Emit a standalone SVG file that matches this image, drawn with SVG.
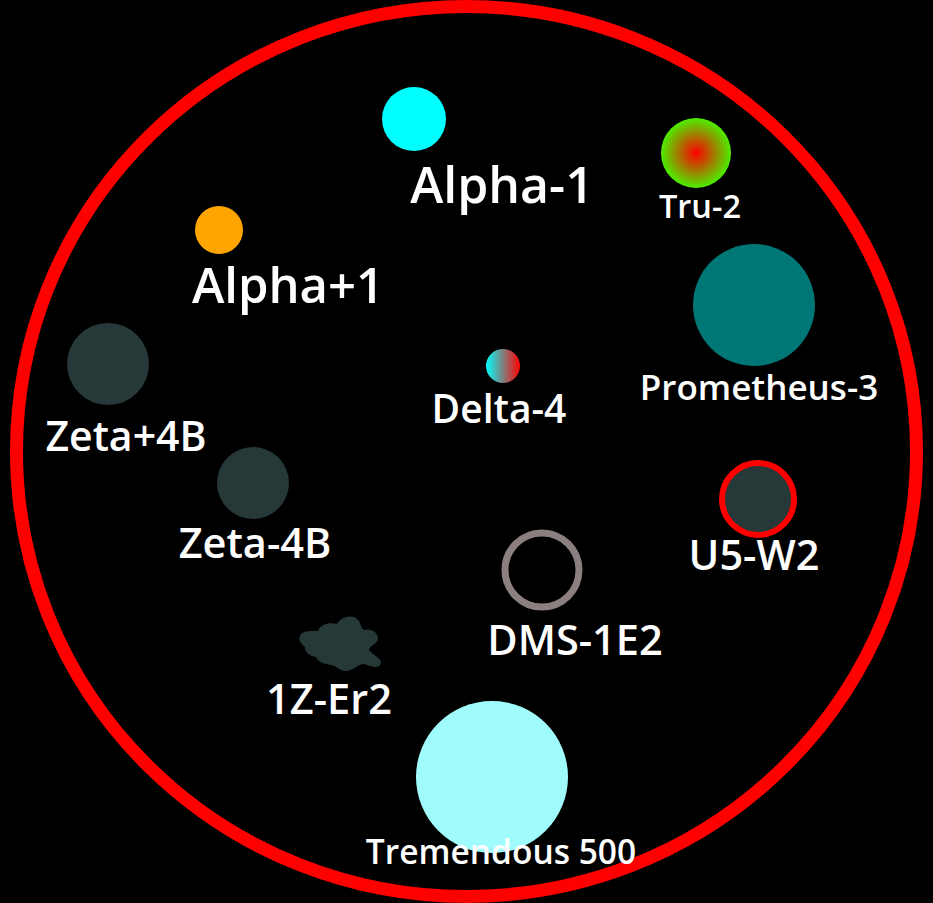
<svg xmlns="http://www.w3.org/2000/svg" width="933" height="903" viewBox="0 0 933 903">
<defs>
<radialGradient id="gTru" cx="0.5" cy="0.5" r="0.5">
<stop offset="0" stop-color="#ff0000"/>
<stop offset="1" stop-color="#4cee00"/>
</radialGradient>
<linearGradient id="gDelta" x1="0" y1="0" x2="1" y2="0">
<stop offset="0" stop-color="#00ffff"/>
<stop offset="1" stop-color="#ff0000"/>
</linearGradient>
<style>
text{font-family:"Open Sans","Noto Sans","Liberation Sans",sans-serif;font-weight:600;fill:#ffffff;text-anchor:middle}
.dark{fill:#263838}
</style>
</defs>
<rect width="933" height="903" fill="#000000"/>
<g id="connectors"></g>
<g id="boundary">
<ellipse cx="466.5" cy="451.5" rx="450" ry="445" fill="none" stroke="#ff0000" stroke-width="13"/>
</g>
<g id="alpha-1">
<circle cx="414" cy="119" r="32" fill="#00ffff"/>
<text x="502" y="203" font-size="50">Alpha-1</text>
</g>
<g id="tru-2">
<circle cx="696" cy="153" r="35" fill="url(#gTru)"/>
<text x="700" y="218" font-size="32.5">Tru-2</text>
</g>
<g id="alpha+1">
<circle cx="219" cy="230" r="24" fill="#ffa500"/>
<text x="288" y="303" font-size="49">Alpha+1</text>
</g>
<g id="prometheus-3">
<circle cx="754" cy="305" r="61" fill="#007777"/>
<text x="759" y="400" font-size="35">Prometheus-3</text>
</g>
<g id="zeta+4b">
<circle class="dark" cx="108" cy="364" r="41"/>
<text x="126" y="451" font-size="41">Zeta+4B</text>
</g>
<g id="delta-4">
<circle cx="503" cy="366" r="17" fill="url(#gDelta)"/>
<text x="499" y="423" font-size="39">Delta-4</text>
</g>
<g id="zeta-4b">
<circle class="dark" cx="253" cy="483" r="36"/>
<text x="255" y="558" font-size="41.5">Zeta-4B</text>
</g>
<g id="u5-w2">
<circle class="dark" cx="758" cy="499" r="36" stroke="#ff0000" stroke-width="6"/>
<text x="754" y="570" font-size="41.5">U5-W2</text>
</g>
<g id="dms-1e2">
<circle cx="542" cy="570" r="37" fill="none" stroke="#8b7f7f" stroke-width="7"/>
<text x="575" y="655" font-size="41.5">DMS-1E2</text>
</g>
<g id="1z-er2">
<path class="dark" d="M300,636 C302,630 312,631 318,631 C320,624 330,622 337,624 C341,617 352,614 357,619 C362,623 360,628 364,630 C370,628 378,632 378,638 C378,644 370,645 369,650 C373,655 381,658 381,663 C380,669 372,667 364,664 C358,664 353,671 346,671 C339,671 337,666 331,665 C324,664 318,662 316,657 C310,656 304,652 305,647 C301,644 298,640 300,636 Z"/>
<text x="329" y="714" font-size="41.5">1Z-Er2</text>
</g>
<g id="tremendous-500">
<circle cx="492" cy="777" r="76" fill="#a0fcfc"/>
<text x="501" y="864" font-size="33.5">Tremendous 500</text>
</g>
</svg>
